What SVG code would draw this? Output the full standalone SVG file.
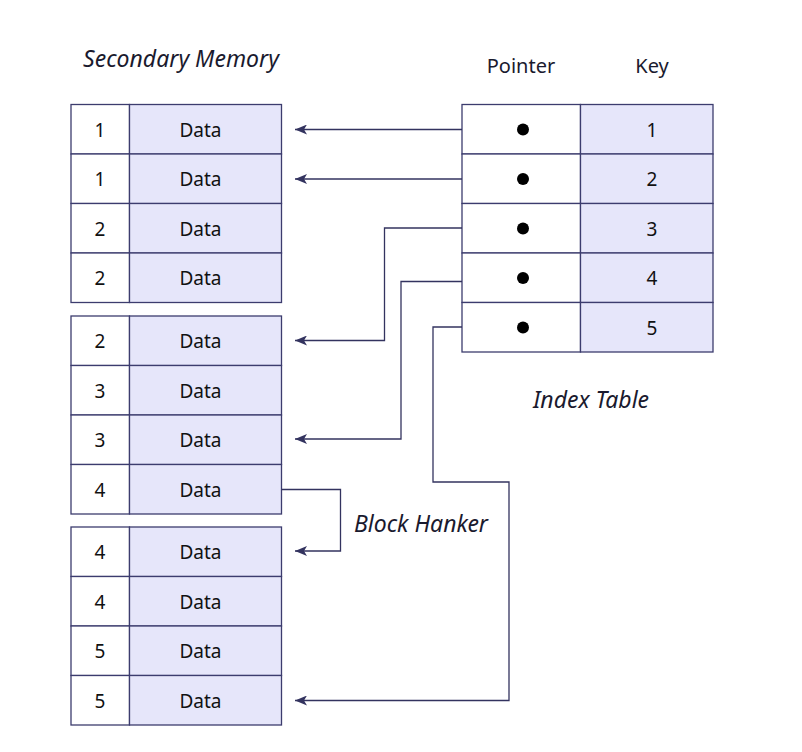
<svg xmlns="http://www.w3.org/2000/svg" width="802" height="752" viewBox="0 0 802 752">
<style>
.k{fill:#ffffff;stroke:#3c3c6e;stroke-width:1.3}
.d{fill:#e6e6fa;stroke:#3c3c6e;stroke-width:1.3}
.t{font-family:"Noto Sans","Open Sans",sans-serif;font-size:19px;fill:#111111;text-anchor:middle;dominant-baseline:central}
.h{font-family:"Noto Sans","Open Sans",sans-serif;font-size:20px;fill:#1a1a2e;text-anchor:middle;dominant-baseline:central}
.i{font-family:"Noto Sans","Open Sans",sans-serif;font-size:23px;font-style:italic;fill:#1a1a2e;text-anchor:middle;dominant-baseline:central}
.c{fill:none;stroke:#33335f;stroke-width:1.3;marker-end:url(#a)}
</style>
<defs>
<marker id="a" viewBox="0 0 12 10" refX="12" refY="5" markerWidth="12" markerHeight="10" markerUnits="userSpaceOnUse" orient="auto">
<path d="M0,0 L12,5 L0,10 L3,5 Z" fill="#33335f"/>
</marker>
</defs>
<rect width="802" height="752" fill="#ffffff"/>
<text class="i" x="181" y="58">Secondary Memory</text>
<text class="h" x="521" y="65">Pointer</text>
<text class="h" x="652" y="65">Key</text>
<text class="i" x="591" y="399">Index Table</text>
<text class="i" x="421" y="523">Block Hanker</text>

<g id="block1">
<g id="m1"><rect class="k" x="71" y="104.5" width="58.5" height="49.5"/><rect class="d" x="129.5" y="104.5" width="152" height="49.5"/><text class="t" x="100" y="129.5">1</text><text class="t" x="200.5" y="129.5">Data</text></g>
<g id="m2"><rect class="k" x="71" y="154" width="58.5" height="49.5"/><rect class="d" x="129.5" y="154" width="152" height="49.5"/><text class="t" x="100" y="179">1</text><text class="t" x="200.5" y="179">Data</text></g>
<g id="m3"><rect class="k" x="71" y="203.5" width="58.5" height="49.5"/><rect class="d" x="129.5" y="203.5" width="152" height="49.5"/><text class="t" x="100" y="228.5">2</text><text class="t" x="200.5" y="228.5">Data</text></g>
<g id="m4"><rect class="k" x="71" y="253" width="58.5" height="49.5"/><rect class="d" x="129.5" y="253" width="152" height="49.5"/><text class="t" x="100" y="278">2</text><text class="t" x="200.5" y="278">Data</text></g>
</g>
<g id="block2">
<g id="m5"><rect class="k" x="71" y="316" width="58.5" height="49.5"/><rect class="d" x="129.5" y="316" width="152" height="49.5"/><text class="t" x="100" y="341">2</text><text class="t" x="200.5" y="341">Data</text></g>
<g id="m6"><rect class="k" x="71" y="365.5" width="58.5" height="49.5"/><rect class="d" x="129.5" y="365.5" width="152" height="49.5"/><text class="t" x="100" y="390.5">3</text><text class="t" x="200.5" y="390.5">Data</text></g>
<g id="m7"><rect class="k" x="71" y="415" width="58.5" height="49.5"/><rect class="d" x="129.5" y="415" width="152" height="49.5"/><text class="t" x="100" y="440">3</text><text class="t" x="200.5" y="440">Data</text></g>
<g id="m8"><rect class="k" x="71" y="464.5" width="58.5" height="49.5"/><rect class="d" x="129.5" y="464.5" width="152" height="49.5"/><text class="t" x="100" y="489.5">4</text><text class="t" x="200.5" y="489.5">Data</text></g>
</g>
<g id="block3">
<g id="m9"><rect class="k" x="71" y="527" width="58.5" height="49.5"/><rect class="d" x="129.5" y="527" width="152" height="49.5"/><text class="t" x="100" y="552">4</text><text class="t" x="200.5" y="552">Data</text></g>
<g id="m10"><rect class="k" x="71" y="576.5" width="58.5" height="49.5"/><rect class="d" x="129.5" y="576.5" width="152" height="49.5"/><text class="t" x="100" y="601.5">4</text><text class="t" x="200.5" y="601.5">Data</text></g>
<g id="m11"><rect class="k" x="71" y="626" width="58.5" height="49.5"/><rect class="d" x="129.5" y="626" width="152" height="49.5"/><text class="t" x="100" y="651">5</text><text class="t" x="200.5" y="651">Data</text></g>
<g id="m12"><rect class="k" x="71" y="675.5" width="58.5" height="49.5"/><rect class="d" x="129.5" y="675.5" width="152" height="49.5"/><text class="t" x="100" y="700.5">5</text><text class="t" x="200.5" y="700.5">Data</text></g>
</g>

<g id="index">
<g id="i1"><rect class="k" x="462" y="104.5" width="118.5" height="49.5"/><rect class="d" x="580.5" y="104.5" width="132.5" height="49.5"/><circle cx="523" cy="129.5" r="6" fill="#000"/><text class="t" x="652" y="129.5">1</text></g>
<g id="i2"><rect class="k" x="462" y="154" width="118.5" height="49.5"/><rect class="d" x="580.5" y="154" width="132.5" height="49.5"/><circle cx="523" cy="179" r="6" fill="#000"/><text class="t" x="652" y="179">2</text></g>
<g id="i3"><rect class="k" x="462" y="203.5" width="118.5" height="49.5"/><rect class="d" x="580.5" y="203.5" width="132.5" height="49.5"/><circle cx="523" cy="228.5" r="6" fill="#000"/><text class="t" x="652" y="228.5">3</text></g>
<g id="i4"><rect class="k" x="462" y="253" width="118.5" height="49.5"/><rect class="d" x="580.5" y="253" width="132.5" height="49.5"/><circle cx="523" cy="278" r="6" fill="#000"/><text class="t" x="652" y="278">4</text></g>
<g id="i5"><rect class="k" x="462" y="302.5" width="118.5" height="49.5"/><rect class="d" x="580.5" y="302.5" width="132.5" height="49.5"/><circle cx="523" cy="327.5" r="6" fill="#000"/><text class="t" x="652" y="327.5">5</text></g>
</g>

<g id="connectors">
<path class="c" d="M462,129.5 H295"/>
<path class="c" d="M462,179 H295"/>
<path class="c" d="M462,228 H384.5 V340.5 H295"/>
<path class="c" d="M462,281.5 H401 V439 H295"/>
<path class="c" d="M462,327 H433 V482 H509 V700.5 H295"/>
<path class="c" d="M281.5,489.5 H340.5 V551 H295"/>
</g>
</svg>
